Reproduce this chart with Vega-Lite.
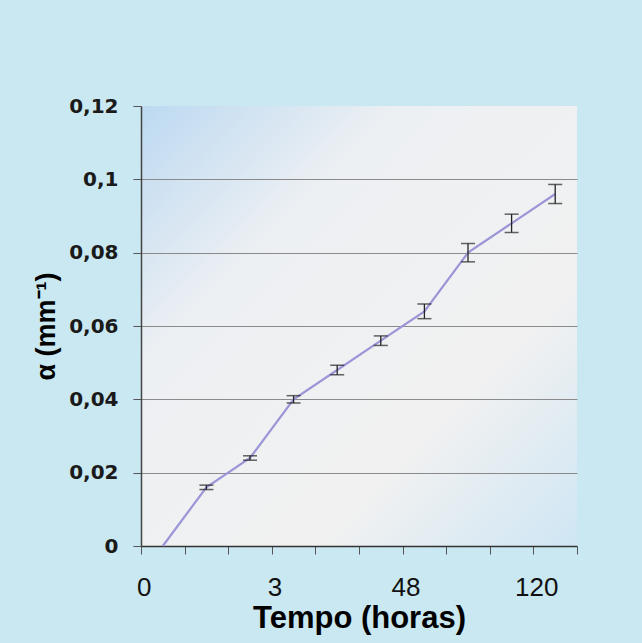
{
  "$schema": "https://vega.github.io/schema/vega-lite/v6.json",
  "width": 436,
  "height": 440,
  "autosize": "none",
  "padding": {"left": 141, "top": 106, "right": 65, "bottom": 97},
  "background": "#c9e8f1",
  "config": {
    "view": {
      "fill": {
        "gradient": "linear",
        "x1": 0, "y1": 0, "x2": 1, "y2": 1,
        "stops": [
          {"offset": 0, "color": "#bcd9f1"},
          {"offset": 0.3, "color": "#edf0f3"},
          {"offset": 0.7, "color": "#f1f1f1"},
          {"offset": 1, "color": "#cfe6f4"}
        ]
      },
      "stroke": null
    },
    "font": "Liberation Sans"
  },
  "data": {
    "values": [
      {"t": "0", "alpha": 0.0, "err": 0.0},
      {"t": "1", "alpha": 0.016, "err": 0.0006},
      {"t": "2", "alpha": 0.024, "err": 0.0006},
      {"t": "3", "alpha": 0.040, "err": 0.001},
      {"t": "6", "alpha": 0.048, "err": 0.0013},
      {"t": "24", "alpha": 0.056, "err": 0.0013},
      {"t": "48", "alpha": 0.064, "err": 0.002},
      {"t": "72", "alpha": 0.080, "err": 0.0025},
      {"t": "96", "alpha": 0.088, "err": 0.0025},
      {"t": "120", "alpha": 0.096, "err": 0.0026}
    ]
  },
  "transform": [
    {"calculate": "datum.alpha - datum.err", "as": "lo"},
    {"calculate": "datum.alpha + datum.err", "as": "hi"}
  ],
  "encoding": {
    "x": {
      "field": "t",
      "type": "ordinal",
      "sort": null,
      "scale": {"paddingInner": 0, "paddingOuter": 0},
      "axis": {
        "title": "Tempo (horas)",
        "titleFontSize": 31,
        "titleFontWeight": "bold",
        "titleColor": "#000000",
        "titlePadding": 3,
        "labelAngle": 0,
        "labelFontSize": 26,
        "labelColor": "#111111",
        "labelPadding": 20,
        "labelOffset": -19,
        "labelExpr": "indexof(['0','3','48','120'], datum.value) >= 0 ? datum.value : ''",
        "tickBand": "extent",
        "tickSize": 8,
        "tickColor": "#555555",
        "domainColor": "#333333",
        "domainWidth": 1.5,
        "grid": false
      }
    },
    "y": {
      "field": "alpha",
      "type": "quantitative",
      "scale": {"domain": [0, 0.12], "nice": false},
      "axis": {
        "title": "α (mm⁻¹)",
        "titleFontSize": 27,
        "titleFontWeight": "bold",
        "titleColor": "#000000",
        "titlePadding": 8,
        "values": [0, 0.02, 0.04, 0.06, 0.08, 0.1, 0.12],
        "labelExpr": "replace(format(datum.value, '~g'), '.', ',')",
        "labelFont": "DejaVu Sans",
        "labelFontWeight": "bold",
        "labelFontSize": 20,
        "labelColor": "#1a1a1a",
        "labelPadding": 15,
        "tickSize": 8,
        "tickColor": "#555555",
        "domainColor": "#444444",
        "domainWidth": 1.5,
        "gridColor": "#8a8a8a",
        "gridWidth": 1.2,
        "gridOpacity": {"expr": "datum.value > 0 && datum.value < 0.11 ? 1 : 0"}
      }
    }
  },
  "layer": [
    {"mark": {"type": "line", "color": "#9a96d8", "strokeWidth": 2.2}},
    {
      "transform": [{"filter": "datum.err > 0"}],
      "mark": {"type": "rule", "color": "#222222", "strokeWidth": 1.3},
      "encoding": {"y": {"field": "lo", "type": "quantitative"}, "y2": {"field": "hi"}}
    },
    {
      "transform": [{"filter": "datum.err > 0"}],
      "mark": {"type": "tick", "color": "#222222", "thickness": 1.5, "size": 14, "orient": "horizontal"},
      "encoding": {"y": {"field": "lo", "type": "quantitative"}}
    },
    {
      "transform": [{"filter": "datum.err > 0"}],
      "mark": {"type": "tick", "color": "#222222", "thickness": 1.5, "size": 14, "orient": "horizontal"},
      "encoding": {"y": {"field": "hi", "type": "quantitative"}}
    }
  ]
}
